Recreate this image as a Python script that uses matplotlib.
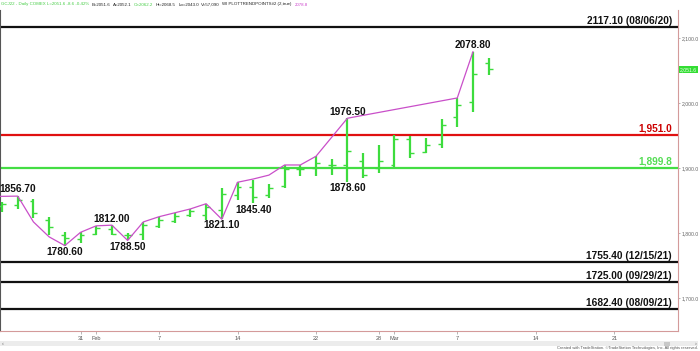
import matplotlib
matplotlib.use("Agg")
import matplotlib.pyplot as plt
from matplotlib.patches import Rectangle

plt.rcParams['font.family'] = ['Liberation Sans', 'DejaVu Sans']

# ---------------- data ----------------
opens  = [1841, 1843, 1849, 1820, 1797, 1790, 1799, 1806, 1797, 1798, 1810, 1818, 1828, 1828, 1836, 1858,
          1870, 1858, 1872, 1898, 1900, 1905, 1905, 1910, 1900, 1905, 1945, 1925, 1937, 1978, 2001, 2062.2]
highs  = [1848, 1856.7, 1853, 1825, 1801, 1801, 1811, 1812, 1800, 1817, 1825, 1831, 1837, 1845, 1869, 1878,
          1881, 1875, 1904.6, 1904, 1918, 1914, 1976.5, 1923, 1935, 1950, 1949, 1946, 1975, 2007.7, 2078.8, 2068.5]
lows   = [1833, 1837, 1823, 1797, 1780.6, 1785, 1797, 1797, 1788.5, 1789, 1808, 1815, 1825, 1820, 1821.1, 1851,
          1845.4, 1854, 1869, 1888, 1887, 1889, 1878.6, 1885, 1892, 1901, 1915, 1923, 1931, 1963, 1986, 2043.0]
closes = [1844, 1850, 1831, 1809, 1792, 1797, 1807, 1799, 1797, 1812, 1820, 1826, 1834, 1840, 1860, 1870,
          1856, 1869, 1898, 1899, 1907, 1904, 1926, 1889, 1910, 1944, 1923, 1936, 1966, 1997, 2044, 2051.6]

trend_idx  = [-1, 1, 2, 3, 4, 5, 6, 7, 8, 9, 10, 11, 12, 13, 14, 15, 16, 17, 18, 19, 20, 22, 29, 30]
trend_vals = [1856.0, 1856.7, 1817, 1794, 1780.6, 1801, 1811, 1812, 1788.5, 1817, 1825, 1831, 1837, 1845,
              1821.1, 1878, 1883, 1889, 1904.6, 1904.6, 1918, 1976.5, 2007.7, 2078.8]

pivot_idx    = [1, 4, 7, 8, 14, 16, 22, 22, 30]
pivot_vals   = [1856.70, 1780.60, 1812.00, 1788.50, 1821.10, 1845.40, 1976.50, 1878.60, 2078.80]
pivot_is_top = [True, False, True, False, False, False, True, False, True]

level_vals   = [2117.10, 1951.0, 1899.8, 1755.40, 1725.00, 1682.40]
level_labels = ["2117.10 (08/06/20)", "1,951.0", "1,899.8", "1755.40 (12/15/21)",
                "1725.00 (09/29/21)", "1682.40 (08/09/21)"]
level_colors = ["#111111", "#e01010", "#44dd44", "#111111", "#111111", "#111111"]
level_text_colors = ["#111111", "#cc0000", "#55dd55", "#111111", "#111111", "#111111"]

xtick_idx    = [5, 6, 10, 15, 20, 24, 25, 29, 34, 39]
xtick_labels = ["31", "Feb", "7", "14", "22", "28", "Mar", "7", "14", "21"]

ytick_vals   = [1700, 1800, 1900, 2000, 2100]
ytick_labels = ["1,700.0", "1,800.0", "1,900.0", "2,000.0", "2,100.0"]

last_price = 2051.6
last_label = "2,051.6"

header_parts  = ["GCJ22 - Daily COMEX L=2051.6 -8.6 -0.42%", "B=2051.6", "A=2052.1", "O=2062.2",
                 "Hi=2068.5", "Lo=2043.0", "V=57,090", "WI PLOTTRENDPOINTS#2 (2,true)", "2078.8"]
header_colors = ["#44cc44", "#222222", "#222222", "#44cc44", "#222222", "#222222", "#222222",
                 "#222222", "#cc44cc"]

# ---------------- figure ----------------
W, H = 700, 351
fig = plt.figure(figsize=(W / 100, H / 100), dpi=100)
ax = fig.add_axes([0, 1 - 331 / H, 678 / W, (331 - 10) / H])
ax.set_xlim(-0.13, 43.06)
ax.set_ylim(1649.2, 2143.0)

GREEN = "#3ddc3d"
# OHLC bars
n = len(opens)
xs = list(range(n))
ax.vlines(xs, lows, highs, color=GREEN, lw=1.6, zorder=3)
ax.hlines(opens, [x - 0.25 for x in xs], xs, color=GREEN, lw=1.0, zorder=3)
ax.hlines(closes, xs, [x + 0.25 for x in xs], color=GREEN, lw=1.0, zorder=3)

# trend line
ax.plot(trend_idx, trend_vals, color="#c94fc9", lw=0.9, zorder=4)

# horizontal levels
for v, lab, c, tc in zip(level_vals, level_labels, level_colors, level_text_colors):
    ax.axhline(v, color=c, lw=1.6, zorder=2)
    ax.annotate(lab, xy=(0.991, v), xycoords=('axes fraction', 'data'),
                xytext=(0, 0.8), textcoords='offset points', ha='right', va='bottom',
                fontsize=7.3, fontweight='bold', color=tc, zorder=5)

# pivot labels
for i, v, top in zip(pivot_idx, pivot_vals, pivot_is_top):
    ax.annotate(f"{v:.2f}", xy=(i, v), xytext=(0, 1.2 if top else -0.8),
                textcoords='offset points', ha='center', va='bottom' if top else 'top',
                fontsize=7.3, fontweight='bold', color="#111111", zorder=5)

# axes styling
ax.spines['top'].set_visible(False)
ax.spines['right'].set_color("#d49a9a")
ax.spines['bottom'].set_color("#d49a9a")
ax.spines['left'].set_color("#555555")
for s in ['right', 'bottom', 'left']:
    ax.spines[s].set_linewidth(0.8)

ax.yaxis.tick_right()
ax.set_yticks(ytick_vals)
ax.set_yticklabels(ytick_labels)
ax.tick_params(axis='y', which='both', length=1.5, width=0.5, color="#999999",
               labelsize=3.7, labelcolor="#666666", pad=1.0)
ax.set_xticks(xtick_idx)
ax.set_xticklabels(xtick_labels)
ax.tick_params(axis='x', length=2, width=0.5, color="#999999", labelsize=4.0,
               labelcolor="#555555", pad=1.5)

# current price marker on right axis
ax.annotate(last_label, xy=(1.0, last_price), xycoords=('axes fraction', 'data'),
            xytext=(1.5, 0), textcoords='offset points', ha='left', va='center',
            fontsize=3.7, color="#eaffea", annotation_clip=False,
            bbox=dict(boxstyle='square,pad=0.2', fc="#33dd33", ec='none'))

# header: pieces placed one after another, measured so they never overlap
hy = 1 - 4.5 / H
renderer = fig.canvas.get_renderer()
x_px = 1.0
for t, c in zip(header_parts, header_colors):
    tx = fig.text(x_px / W, hy, t, fontsize=3.2, color=c, ha='left', va='center')
    bb = tx.get_window_extent(renderer=renderer)
    x_px = bb.x1 + 2.5

# scrollbar
fig.patches.append(Rectangle((0, 1 - 346 / H), 698 / W, 5 / H, transform=fig.transFigure,
                             fc="#ececec", ec='none'))
fig.patches.append(Rectangle((664 / W, 1 - 345.5 / H), 6 / W, 4 / H, transform=fig.transFigure,
                             fc="#c8c8c8", ec='none'))
fig.text(2 / W, 1 - 343.5 / H, "‹", fontsize=4, color="#666666", ha='left', va='center')
fig.text(697 / W, 1 - 343.5 / H, "›", fontsize=4, color="#666666", ha='right', va='center')

# credits
fig.text(698 / W, 1 - 348.5 / H,
         "Created with TradeStation. ©TradeStation Technologies, Inc. All rights reserved.",
         fontsize=2.9, color="#555555", ha='right', va='center')

fig.savefig("out.png", dpi=100)
